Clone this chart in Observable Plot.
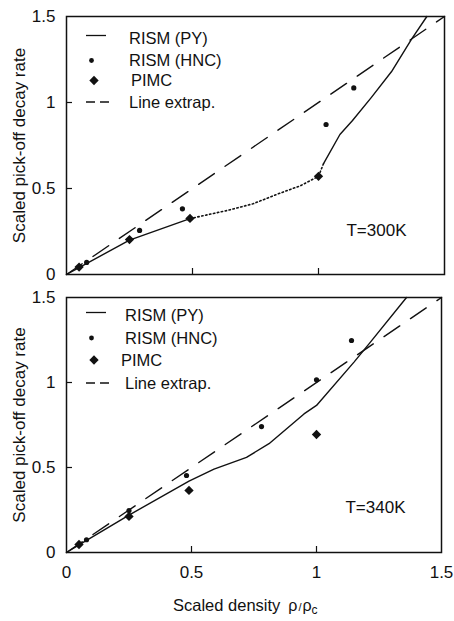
<!DOCTYPE html>
<html><head><meta charset="utf-8">
<script src="https://cdn.jsdelivr.net/npm/d3@7"></script>
<script src="https://cdn.jsdelivr.net/npm/@observablehq/plot@0.6"></script>
<style>
body{margin:0;background:#fff;}
#chart{position:relative;width:454px;height:621px;background:#fff;}
#chart svg{display:block;}
</style></head><body><div id="chart"></div>
<script>
// ---------- data ----------
const xTicks = [0, 0.5, 1, 1.5];
const yTicks = [0, 0.5, 1, 1.5];
const innerTicks = [0.5, 1];
const legendLabels = ["RISM (PY)", "RISM (HNC)", "PIMC", "Line extrap."];
const yLabel = "Scaled pick-off decay rate";

// T = 300 K panel
const t300Label = "T=300K";
const t300_pyA_x = [0, 0.05, 0.25, 0.49];
const t300_pyA_y = [0, 0.04, 0.2, 0.325];
const t300_gap_x = [0.49, 0.64, 0.74, 0.84, 0.93, 1.0, 1.02];
const t300_gap_y = [0.325, 0.373, 0.411, 0.469, 0.517, 0.571, 0.645];
const t300_pyB_x = [1.02, 1.085, 1.135, 1.21, 1.29, 1.37, 1.43];
const t300_pyB_y = [0.645, 0.814, 0.895, 1.03, 1.18, 1.37, 1.5];
const t300_hnc_x = [0.08, 0.29, 0.46, 1.03, 1.14];
const t300_hnc_y = [0.07, 0.256, 0.382, 0.872, 1.085];
const t300_pimc_x = [0.05, 0.25, 0.49, 1.0];
const t300_pimc_y = [0.043, 0.203, 0.326, 0.571];
const t300_ext_x = [0, 1.5];
const t300_ext_y = [0, 1.5];

// T = 340 K panel
const t340Label = "T=340K";
const t340_py_x = [0, 0.05, 0.25, 0.49, 0.59, 0.72, 0.81, 0.95, 1.0, 1.15, 1.21, 1.36];
const t340_py_y = [0, 0.045, 0.22, 0.42, 0.49, 0.56, 0.64, 0.815, 0.865, 1.12, 1.227, 1.5];
const t340_hnc_x = [0.08, 0.25, 0.48, 0.78, 1.0, 1.14];
const t340_hnc_y = [0.075, 0.247, 0.453, 0.741, 1.016, 1.247];
const t340_pimc_x = [0.05, 0.25, 0.49, 1.0];
const t340_pimc_y = [0.047, 0.212, 0.365, 0.694];
const t340_ext_x = [0, 1.5];
const t340_ext_y = [0, 1.5];

// ---------- helpers ----------
const FONT = '"Liberation Sans", Arial, Helvetica, sans-serif';
const INK = "#111";
const rows = (xs, ys) => xs.map((x, i) => ({x, y: ys[i]}));

function panel(cfg) {
  const {width, height, mt, mb, ml, mr} = cfg;
  const fw = width - ml - mr, fh = height - mt - mb;
  const marks = [
    Plot.line(cfg.ext, {x: "x", y: "y", stroke: INK, strokeWidth: 1.4, strokeDasharray: "19,13"}),
    ...cfg.solid.map(s => Plot.line(s, {x: "x", y: "y", stroke: INK, strokeWidth: 1.4})),
    ...cfg.dotted.map(s => Plot.line(s, {x: "x", y: "y", stroke: INK, strokeWidth: 1.6, strokeDasharray: "1.4,2.6"})),
    Plot.dot(cfg.hnc, {x: "x", y: "y", r: 2.6, fill: INK, stroke: "none"}),
    Plot.dot(cfg.pimc, {x: "x", y: "y", r: 4.2, symbol: "diamond2", fill: INK, stroke: "none"}),
    Plot.frame({stroke: INK, strokeWidth: 1.5}),
    Plot.axisY(yTicks, {tickSize: 0, tickPadding: 11, label: null, tickFormat: d => String(d), fill: INK, fontSize: 17}),
    Plot.tickY(innerTicks, {y: d => d, insetRight: fw - 6, stroke: INK, strokeWidth: 1.2}),
    Plot.tickX(innerTicks, {x: d => d, insetTop: fh - 6, stroke: INK, strokeWidth: 1.2}),
    Plot.text([yLabel], {text: d => d, frameAnchor: "left", dx: -47, rotate: -90, textAnchor: "middle", lineAnchor: "middle", fontSize: 17, fill: INK}),
    Plot.text([cfg.tLabel], {text: d => d, frameAnchor: "bottom-right", dx: cfg.tdx, dy: cfg.tdy, textAnchor: "end", lineAnchor: "middle", fontSize: 17, fill: INK})
  ];
  if (cfg.showX) {
    marks.push(Plot.axisX(xTicks, {tickSize: 0, tickPadding: 13, label: null, tickFormat: d => String(d), fill: INK, fontSize: 17}));
  }
  const svg = Plot.plot({
    width, height,
    marginTop: mt, marginBottom: mb, marginLeft: ml, marginRight: mr,
    x: {domain: [0, 1.5], axis: cfg.showX ? undefined : null},
    y: {domain: [0, 1.5]},
    style: {fontFamily: FONT, fontSize: "16.5px", color: INK, background: "#fff", overflow: "visible"},
    marks
  });

  // legend
  const g = d3.select(svg).append("g")
    .attr("font-family", FONT).attr("font-size", "16.5px").attr("fill", INK).attr("text-anchor", "start");
  legendLabels.forEach((lab, i) => {
    const y = mt + cfg.legRows[i];
    if (i === 0) {
      g.append("line").attr("x1", ml + 20).attr("x2", ml + 40).attr("y1", y - 3).attr("y2", y - 3)
        .attr("stroke", INK).attr("stroke-width", 1.3);
    } else if (i === 1) {
      g.append("circle").attr("cx", ml + 25.5).attr("cy", y).attr("r", 2.4).attr("fill", INK);
    } else if (i === 2) {
      g.append("path").attr("d", d3.symbol(d3.symbolDiamond2, Math.PI * 4.2 * 4.2)())
        .attr("transform", `translate(${ml + 28},${y})`).attr("fill", INK);
    } else {
      g.append("line").attr("x1", ml + 20).attr("x2", ml + 44).attr("y1", y).attr("y2", y)
        .attr("stroke", INK).attr("stroke-width", 1.3).attr("stroke-dasharray", "9,5");
    }
    g.append("text").attr("x", ml + (i === 2 ? cfg.pimcX : cfg.textX)).attr("y", y).attr("dy", "0.36em").text(lab);
  });
  return svg;
}

const root = document.getElementById("chart");

const topPanel = panel({
  width: 454, height: 290, mt: 16, mb: 16, ml: 66, mr: 10,
  ext: rows(t300_ext_x, t300_ext_y),
  solid: [rows(t300_pyA_x, t300_pyA_y), rows(t300_pyB_x, t300_pyB_y)],
  dotted: [rows(t300_gap_x, t300_gap_y)],
  hnc: rows(t300_hnc_x, t300_hnc_y),
  pimc: rows(t300_pimc_x, t300_pimc_y),
  tLabel: t300Label, tdx: -38, tdy: -44,
  legRows: [22.5, 44.5, 64.5, 86],
  textX: 63, pimcX: 65,
  showX: false
});
root.appendChild(topPanel);

const bottomPanel = panel({
  width: 454, height: 331, mt: 7, mb: 69, ml: 66, mr: 13,
  ext: rows(t340_ext_x, t340_ext_y),
  solid: [rows(t340_py_x, t340_py_y)],
  dotted: [],
  hnc: rows(t340_hnc_x, t340_hnc_y),
  pimc: rows(t340_pimc_x, t340_pimc_y),
  tLabel: t340Label, tdx: -36, tdy: -45,
  legRows: [18.5, 41, 63, 86],
  textX: 59, pimcX: 55,
  showX: true
});
root.appendChild(bottomPanel);

// x-axis title with subscript
const xt = d3.select(bottomPanel).append("text")
  .attr("x", 173).attr("y", 328 - 7).attr("text-anchor", "start")
  .attr("font-family", FONT).attr("fill", INK).attr("font-size", "16.5px");
xt.append("tspan").text("Scaled density");
xt.append("tspan").attr("dx", 8).attr("font-size", "16px").text("ρ");
xt.append("tspan").attr("font-size", "11px").attr("dx", 1).text("/");
xt.append("tspan").attr("font-size", "16px").attr("dx", 1).text("ρ");
xt.append("tspan").attr("font-size", "12px").attr("dy", 3).text("c");
</script></body></html>
